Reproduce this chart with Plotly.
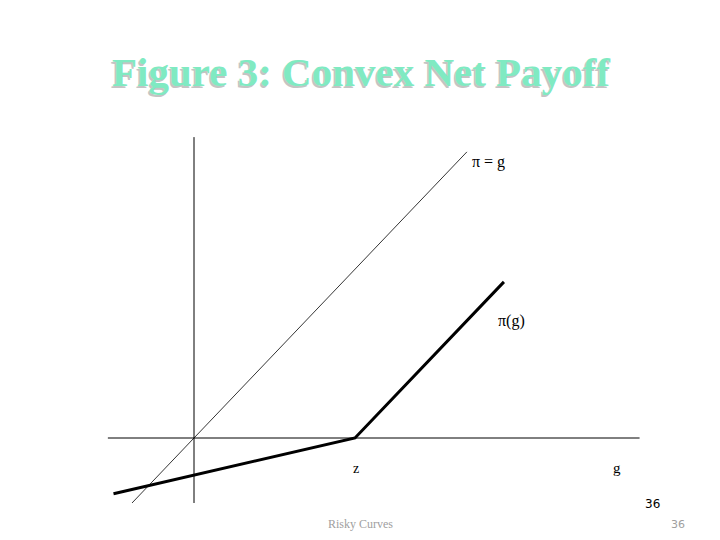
import plotly.graph_objects as go

# ---- data (g units, z = 4) ----
z = 4.0
# horizontal g-axis and vertical pi-axis extents
g_axis_x = [-2.14, 11.07]
pi_axis_y = [-1.54, 7.13]
# 45-degree line pi = g
diag_g = [-1.54, 6.78]
diag_pi = [-1.54, 6.78]
# convex net payoff pi(g): kinked at z
payoff_g = [-2.0, 4.0, 7.7]
payoff_pi = [-1.32, 0.0, 3.7]

W, H = 720, 540
OFF = 8  # page body margin offset
x_range = [(OFF - 194) / 40.25, (W + OFF - 194) / 40.25]
y_range = [(438 - (H + OFF)) / 42.2, (438 - OFF) / 42.2]

fig = go.Figure()
fig.add_trace(go.Scatter(x=g_axis_x, y=[0, 0], mode="lines",
                         line=dict(color="black", width=1), hoverinfo="skip"))
fig.add_trace(go.Scatter(x=[0, 0], y=pi_axis_y, mode="lines",
                         line=dict(color="black", width=1), hoverinfo="skip"))
fig.add_trace(go.Scatter(x=diag_g, y=diag_pi, mode="lines",
                         line=dict(color="black", width=0.8), hoverinfo="skip"))
fig.add_trace(go.Scatter(x=payoff_g, y=payoff_pi, mode="lines",
                         line=dict(color="black", width=3), hoverinfo="skip"))

def px(x, y):
    return (x - OFF) / W, 1 - (y - OFF) / H

annots = []
title = "Figure 3: Convex Net Payoff"
tx, ty = px(361, 72)
annots.append(dict(x=tx, y=ty, text="<b>" + title + "</b>", showarrow=False,
                   xref="paper", yref="paper", xanchor="center", yanchor="middle",
                   font=dict(family="Liberation Serif", size=41, color="#80eac2",
                             shadow="-1.5px 1.5px 0px #c4c4c4")))

labels = [
    ("π = g", 489, 162, "Liberation Serif", 16, "black"),
    ("π(g)", 511, 321, "Liberation Serif", 16, "black"),
    ("z", 356, 468, "Liberation Serif", 14, "black"),
    ("g", 617, 468, "Liberation Serif", 15, "black"),
    ("36", 652, 504, "DejaVu Sans", 12, "black"),
    ("Risky Curves", 360, 524, "Liberation Serif", 12, "#a0a0a0"),
    ("36", 678, 524, "DejaVu Sans", 11, "#a0a0a0"),
]
for t, x, y, fam, sz, col in labels:
    ax, ay = px(x, y)
    annots.append(dict(x=ax, y=ay, text=t, showarrow=False, xref="paper", yref="paper",
                       xanchor="center", yanchor="middle",
                       font=dict(family=fam, size=sz, color=col)))

fig.update_layout(
    width=W, height=H, margin=dict(l=0, r=0, t=0, b=0),
    paper_bgcolor="white", plot_bgcolor="white", showlegend=False,
    xaxis=dict(range=x_range, visible=False, fixedrange=True),
    yaxis=dict(range=y_range, visible=False, fixedrange=True),
    annotations=annots,
)
fig.write_html("out.html")
